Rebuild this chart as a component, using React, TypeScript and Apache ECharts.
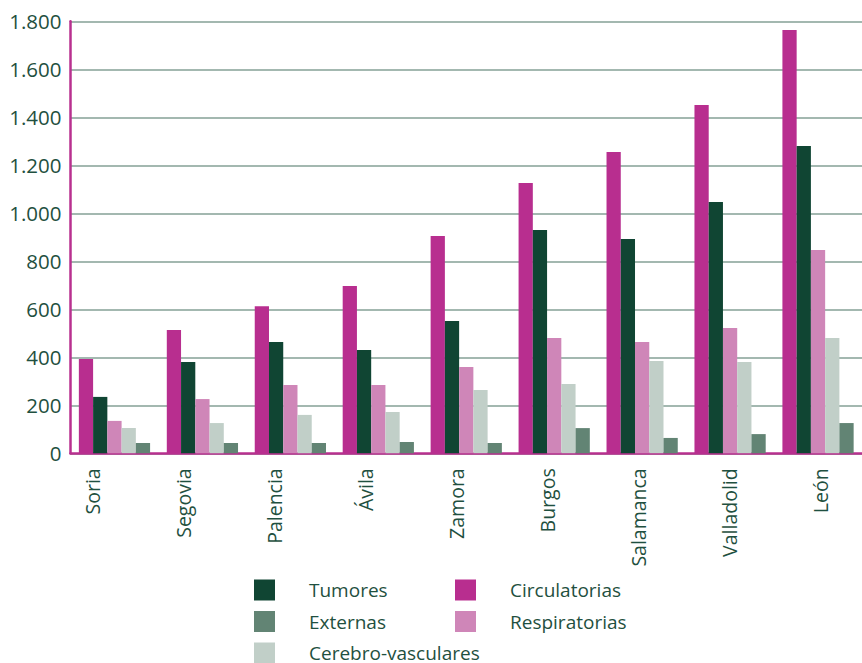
import React, { useEffect, useRef } from "react";
import * as echarts from "echarts";

const categories = ["Soria", "Segovia", "Palencia", "Ávila", "Zamora", "Burgos", "Salamanca", "Valladolid", "León"];
const circulatorias = [393, 514, 613, 697, 905, 1126, 1255, 1451, 1764];
const tumores = [235, 380, 464, 430, 551, 930, 893, 1047, 1280];
const respiratorias = [135, 226, 285, 285, 360, 480, 464, 522, 847];
const cerebrovasculares = [105, 126, 160, 172, 264, 289, 385, 380, 480];
const externas = [43, 43, 43, 47, 43, 105, 64, 80, 126];

const yMin = 0;
const yMax = 1800;
const yInterval = 200;

const textColor = "#1f5040";
const font = "'Open Sans', 'Noto Sans', sans-serif";

export default function App() {
  const ref = useRef<HTMLDivElement>(null);
  useEffect(() => {
    if (!ref.current) return;
    const chart = echarts.init(ref.current, undefined, { renderer: "svg" });
    const fmt = (v: number) => String(v).replace(/\B(?=(\d{3})+(?!\d))/g, ".");
    const legendCommon = {
      orient: "vertical",
      top: 574.5,
      height: 120,
      itemWidth: 21,
      itemHeight: 21,
      itemGap: 10.5,
      icon: "rect",
      textStyle: { color: textColor, fontSize: 19, lineHeight: 19, fontFamily: font, padding: [0, 0, 0, 29] },
    };
    chart.setOption({
      animation: false,
      backgroundColor: "#ffffff",
      textStyle: { fontFamily: font },
      grid: [
        { left: 70.5, top: 21.3, width: 796.5, height: 432 },
        { left: 92, top: 21.3, width: 728, height: 432 },
      ],
      legend: [
        { ...legendCommon, left: 249, data: ["Tumores", "Externas", "Cerebro-vasculares"] },
        { ...legendCommon, left: 450, data: ["Circulatorias", "Respiratorias"] },
      ],
      xAxis: [
        {
          type: "category",
          gridIndex: 0,
          data: categories,
          axisLine: { lineStyle: { color: "#b8308f", width: 2.5 } },
          axisTick: { show: false },
          axisLabel: { show: false },
        },
        {
          type: "category",
          gridIndex: 1,
          data: categories,
          boundaryGap: false,
          axisLine: { show: false },
          axisTick: { show: false },
          axisLabel: {
            rotate: 90,
            margin: 15,
            color: textColor,
            fontSize: 19.5,
            fontFamily: font,
            interval: 0,
          },
        },
      ],
      yAxis: [
        {
          type: "value",
          gridIndex: 0,
          min: yMin,
          max: yMax,
          interval: yInterval,
          axisLine: { show: true, lineStyle: { color: "#b8308f", width: 2.5 } },
          axisTick: { show: false },
          splitLine: { lineStyle: { color: "#84a096", width: 1.5 } },
          axisLabel: {
            margin: 9,
            color: textColor,
            fontSize: 20.5,
            fontFamily: font,
            formatter: fmt,
          },
        },
        { type: "value", gridIndex: 1, show: false, min: yMin, max: yMax },
      ],
      series: [
        { name: "Circulatorias", type: "bar", data: circulatorias, itemStyle: { color: "#b82e8f" }, barGap: "0%", barCategoryGap: "19%" },
        { name: "Tumores", type: "bar", data: tumores, itemStyle: { color: "#104533" } },
        { name: "Respiratorias", type: "bar", data: respiratorias, itemStyle: { color: "#cf86b8" } },
        { name: "Cerebro-vasculares", type: "bar", data: cerebrovasculares, itemStyle: { color: "#c1cfc8" } },
        { name: "Externas", type: "bar", data: externas, itemStyle: { color: "#628474" } },
      ],
    });
    return () => chart.dispose();
  }, []);
  return <div ref={ref} style={{ position: "fixed", left: 0, top: 0, width: 862, height: 663 }} />;
}
